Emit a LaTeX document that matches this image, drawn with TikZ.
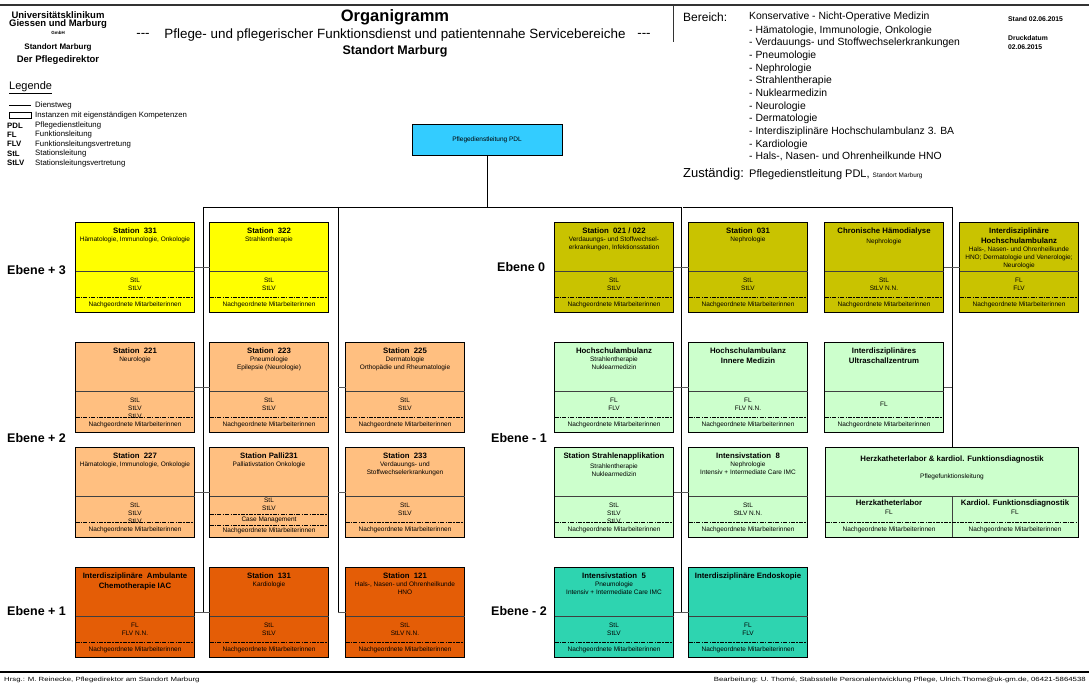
\documentclass[tikz,border=0pt]{standalone}
\usepackage{fontspec}
\setmainfont{Liberation Sans}
\usepackage{graphicx}
\usepackage{tikz}
\definecolor{ukgelb}{RGB}{255,255,0}
\definecolor{ukpfirsich}{RGB}{255,191,128}
\definecolor{ukorange}{RGB}{228,93,6}
\definecolor{ukoliv}{RGB}{201,195,0}
\definecolor{ukhellgruen}{RGB}{204,255,204}
\definecolor{uktuerkis}{RGB}{46,212,176}
\definecolor{ukcyan}{RGB}{51,204,255}
\tikzset{
	stationbox/.style={draw=black, line width=0.7pt, minimum width=119pt, minimum height=90pt, inner sep=0pt, outer sep=0pt},
	trennlinie/.style={draw=black!75, line width=0.6pt},
	strichpunkt/.style={draw=black, line width=0.6pt, dash pattern=on 4pt off 1.2pt on 1.5pt off 1.2pt},
	titel/.style={font=\fontsize{7.8}{9.5}\selectfont\bfseries, align=center, inner sep=0pt},
	klein/.style={font=\fontsize{6.5}{8}\selectfont, align=center, inner sep=0pt},
	dienstweg/.style={draw=black, line width=0.8pt},
	quer/.style={draw=black!65, line width=0.8pt},
	ebene/.style={font=\fontsize{12.5}{14}\selectfont\bfseries, anchor=west, inner sep=0pt},
	legtxt/.style={font=\fontsize{7.8}{9}\selectfont, anchor=west, inner sep=0pt},
	fuss/.style={font=\fontsize{6}{7}\selectfont, inner sep=0pt}
}
\newcommand{\station}[6]{%
	\node[stationbox, fill=#3] (#1) at (#2) {};
	\draw[trennlinie] ([yshift=-49pt]#1.north west) -- ([yshift=-49pt]#1.north east);
	\draw[strichpunkt] ([yshift=-75pt]#1.north west) -- ([yshift=-75pt]#1.north east);
	\node[titel, anchor=north] (#1-t) at ([yshift=-6pt]#1.north) {#4};
	\node[klein, anchor=north] (#1-s) at ([yshift=-2.5pt]#1-t.south) {#5};
	\node[klein] (#1-l) at ([yshift=-62pt]#1.north) {#6};
	\node[klein] (#1-n) at ([yshift=-82.5pt]#1.north) {Nachgeordnete Mitarbeiterinnen};
}

\begin{document}
\begin{tikzpicture}[x=1pt,y=-1pt]
	\useasboundingbox (0,0) rectangle (1089,684);

	% Kopf
	\draw[line width=1.2pt, black!80] (0,5) -- (1089,5);
	\draw[line width=0.6pt, black!80] (673,5) -- (673,42);
	\node[font=\fontsize{9.5}{11}\selectfont\bfseries, inner sep=0pt] (uk1) at (58,15) {Universitätsklinikum};
	\node[font=\fontsize{9.5}{11}\selectfont\bfseries, inner sep=0pt] (uk2) at (58,24) {Giessen und Marburg};
	\node[font=\fontsize{4.5}{5}\selectfont\bfseries, inner sep=0pt] (uk3) at (58,33) {GmbH};
	\node[font=\fontsize{8}{9}\selectfont\bfseries, inner sep=0pt] (uk4) at (58,47) {Standort Marburg};
	\node[font=\fontsize{9.5}{11}\selectfont\bfseries, inner sep=0pt] (uk5) at (58,60) {Der Pflegedirektor};

	\node[font=\fontsize{16.5}{18}\selectfont\bfseries, inner sep=0pt] (titel) at (395,17) {Organigramm};
	\node[font=\fontsize{13.4}{15}\selectfont, inner sep=0pt] (untertitel) at (395,35) {Pflege- und pflegerischer Funktionsdienst und patientennahe Servicebereiche};
	\node[font=\fontsize{13.4}{15}\selectfont, inner sep=0pt] (strich-l) at (143,35) {-{}-{}-};
	\node[font=\fontsize{13.4}{15}\selectfont, inner sep=0pt] (strich-r) at (644,35) {-{}-{}-};
	\node[font=\fontsize{12.5}{14}\selectfont\bfseries, inner sep=0pt] (standort) at (395,51) {Standort Marburg};

	\node[font=\fontsize{12}{14}\selectfont, anchor=west, inner sep=0pt] (bereich) at (683,17) {Bereich:};
	\node[font=\fontsize{10.4}{12.6}\selectfont, anchor=west, inner sep=0pt] (medizin) at (749,17) {Konservative - Nicht-Operative Medizin};
	\node[font=\fontsize{10.4}{12.65}\selectfont, align=left, anchor=north west, inner sep=0pt] (liste) at (749,25.5) {%
		- Hämatologie, Immunologie, Onkologie\\
		- Verdauungs- und Stoffwechselerkrankungen\\
		- Pneumologie\\
		- Nephrologie\\
		- Strahlentherapie\\
		- Nuklearmedizin\\
		- Neurologie\\
		- Dermatologie\\
		- Interdisziplinäre Hochschulambulanz 3. BA\\
		- Kardiologie\\
		- Hals-, Nasen- und Ohrenheilkunde HNO};
	\node[font=\fontsize{13}{15}\selectfont, anchor=base west, inner sep=0pt] (zust) at (683,177.5) {Zuständig:};
	\node[font=\fontsize{11}{13}\selectfont, anchor=base west, inner sep=0pt] (zust-txt) at (749,177.5) {Pflegedienstleitung PDL, {\fontsize{6.4}{8}\selectfont Standort Marburg}};

	\node[font=\fontsize{6.8}{8}\selectfont\bfseries, anchor=west, inner sep=0pt] (stand) at (1008,19) {Stand 02.06.2015};
	\node[font=\fontsize{6.8}{8}\selectfont\bfseries, anchor=west, inner sep=0pt] (druck) at (1008,38) {Druckdatum};
	\node[font=\fontsize{6.8}{8}\selectfont\bfseries, anchor=west, inner sep=0pt] (druck-d) at (1008,47) {02.06.2015};

	% Legende
	\node[font=\fontsize{11}{13}\selectfont, anchor=west, inner sep=0pt] (legende) at (9,88) {\underline{Legende}};
	\draw[line width=0.7pt] (9,105) -- (31,105);
	\draw[line width=0.6pt] (9,112.5) rectangle (31,118.5);
	\foreach \yy/\abk/\txt in {105//Dienstweg, 115.5//Instanzen mit eigenständigen Kompetenzen, 125.5/PDL/Pflegedienstleitung, 134.5/FL/Funktionsleitung, 144/FLV/Funktionsleitungsvertretung, 153.5/StL/Stationsleitung, 163.3/StLV/Stationsleitungsvertretung}{
		\node[legtxt, font=\fontsize{7.8}{9}\selectfont\bfseries] (abk-\yy) at (7,\yy) {\abk};
		\node[legtxt] (leg-\yy) at (35,\yy) {\txt};
	}

	% Pflegedienstleitung
	\node[draw=black, line width=0.6pt, fill=ukcyan, minimum width=150pt, minimum height=31pt, inner sep=0pt, font=\fontsize{6.5}{8}\selectfont] (pdl) at (487,139.5) {Pflegedienstleitung PDL};

	% Ebenen
	\node[ebene] (e3) at (7,270) {Ebene + 3};
	\node[ebene] (e2) at (7,438) {Ebene + 2};
	\node[ebene] (e1) at (7,611) {Ebene + 1};
	\node[ebene] (e0) at (497,267) {Ebene 0};
	\node[ebene] (em1) at (491,438) {Ebene - 1};
	\node[ebene] (em2) at (491,611) {Ebene - 2};

	% Stationen links
	\station{s331}{135,267}{ukgelb}{Station~~331}{Hämatologie, Immunologie, Onkologie}{StL\\StLV}
	\station{s322}{269,267}{ukgelb}{Station~~322}{Strahlentherapie}{StL\\StLV}
	\station{s221}{135,387}{ukpfirsich}{Station~~221}{Neurologie}{StL\\StLV}
	\node[klein] (s221-x) at ([yshift=-74pt]s221.north) {StLV};
	\station{s223}{269,387}{ukpfirsich}{Station~~223}{Pneumologie\\Epilepsie (Neurologie)}{StL\\StLV}
	\station{s225}{405,387}{ukpfirsich}{Station~~225}{Dermatologie\\Orthopädie und Rheumatologie}{StL\\StLV}
	\station{s227}{135,492}{ukpfirsich}{Station~~227}{Hämatologie, Immunologie, Onkologie}{StL\\StLV}
	\node[klein] (s227-x) at ([yshift=-74pt]s227.north) {StLV};
	\station{s233}{405,492}{ukpfirsich}{Station~~233}{Verdauungs- und\\Stoffwechselerkrankungen}{StL\\StLV}
	\station{iac}{135,612}{ukorange}{Interdisziplinäre~~Ambulante\\Chemotherapie IAC}{}{FL\\FLV N.N.}
	\station{s131}{269,612}{ukorange}{Station~~131}{Kardiologie}{StL\\StLV}
	\station{s121}{405,612}{ukorange}{Station~~121}{Hals-, Nasen- und Ohrenheilkunde\\HNO}{StL\\StLV N.N.}

	% Palliativstation mit Case Management
	\node[stationbox, fill=ukpfirsich] (palli) at (269,492) {};
	\draw[trennlinie] ([yshift=-49pt]palli.north west) -- ([yshift=-49pt]palli.north east);
	\draw[strichpunkt] ([yshift=-67pt]palli.north west) -- ([yshift=-67pt]palli.north east);
	\draw[strichpunkt] ([yshift=-78pt]palli.north west) -- ([yshift=-78pt]palli.north east);
	\node[titel, anchor=north] (palli-t) at ([yshift=-6pt]palli.north) {Station Palli231};
	\node[klein, anchor=north] (palli-s) at ([yshift=-2.5pt]palli-t.south) {Palliativstation Onkologie};
	\node[klein] (palli-l) at ([yshift=-57pt]palli.north) {StL\\StLV};
	\node[klein] (palli-c) at ([yshift=-72.5pt]palli.north) {Case Management};
	\node[klein] (palli-n) at ([yshift=-84pt]palli.north) {Nachgeordnete Mitarbeiterinnen};

	% Stationen rechts
	\station{s021}{614,267}{ukoliv}{Station~~021 / 022}{Verdauungs- und Stoffwechsel-\\erkrankungen, Infektionsstation}{StL\\StLV}
	\station{s031}{748,267}{ukoliv}{Station~~031}{Nephrologie}{StL\\StLV}
	\station{hd}{884,267}{ukoliv}{Chronische Hämodialyse}{Nephrologie}{StL\\StLV N.N.}
	\station{ha}{1019,267}{ukoliv}{Interdisziplinäre\\Hochschulambulanz}{Hals-, Nasen- und Ohrenheilkunde\\HNO; Dermatologie und Venerologie;\\Neurologie}{FL\\FLV}
	\station{hsa}{614,387}{ukhellgruen}{Hochschulambulanz}{Strahlentherapie\\Nuklearmedizin}{FL\\FLV}
	\station{hsim}{748,387}{ukhellgruen}{Hochschulambulanz\\Innere Medizin}{}{FL\\FLV N.N.}
	\station{usz}{884,387}{ukhellgruen}{Interdisziplinäres\\Ultraschallzentrum}{}{FL}
	\station{sap}{614,492}{ukhellgruen}{Station Strahlenapplikation}{Strahlentherapie\\Nuklearmedizin}{StL\\StLV}
	\node[klein] (sap-x) at ([yshift=-74pt]sap.north) {StLV};
	\station{is8}{748,492}{ukhellgruen}{Intensivstation~~8}{Nephrologie\\Intensiv + Intermediate Care IMC}{StL\\StLV N.N.}
	\station{is5}{614,612}{uktuerkis}{Intensivstation~~5}{Pneumologie\\Intensiv + Intermediate Care IMC}{StL\\StLV}
	\station{endo}{748,612}{uktuerkis}{Interdisziplinäre Endoskopie}{}{FL\\FLV}

	% Herzkatheterlabor
	\node[stationbox, minimum width=253pt, fill=ukhellgruen] (hk) at (952,492) {};
	\draw[trennlinie] ([yshift=-49pt]hk.north west) -- ([yshift=-49pt]hk.north east);
	\draw[trennlinie] ([yshift=-49pt]hk.north) -- (hk.south);
	\draw[strichpunkt] ([yshift=-75pt]hk.north west) -- ([yshift=-75pt]hk.north east);
	\node[titel, anchor=north] (hk-t) at ([yshift=-9pt]hk.north) {Herzkatheterlabor \& kardiol. Funktionsdiagnostik};
	\node[klein] (hk-s) at ([yshift=-30pt]hk.north) {Pflegefunktionsleitung};
	\node[titel] (hk-a) at ([xshift=-63pt,yshift=-56pt]hk.north) {Herzkatheterlabor};
	\node[klein] (hk-al) at ([xshift=-63pt,yshift=-65pt]hk.north) {FL};
	\node[klein] (hk-an) at ([xshift=-63pt,yshift=-82.5pt]hk.north) {Nachgeordnete Mitarbeiterinnen};
	\node[titel] (hk-b) at ([xshift=63pt,yshift=-56pt]hk.north) {Kardiol. Funktionsdiagnostik};
	\node[klein] (hk-bl) at ([xshift=63pt,yshift=-65pt]hk.north) {FL};
	\node[klein] (hk-bn) at ([xshift=63pt,yshift=-82.5pt]hk.north) {Nachgeordnete Mitarbeiterinnen};

	% Dienstwege
	\coordinate (oben-l) at (203,207);
	\coordinate (oben-m) at (338,207);
	\coordinate (oben-r) at (682,207);
	\coordinate (oben-rr) at (952,207);
	\draw[dienstweg] (pdl.south) -- (pdl.south |- oben-l);
	\draw[dienstweg] (oben-l) -- (oben-rr);
	\draw[dienstweg] (oben-l) -- (oben-l |- iac.east);
	\draw[dienstweg] (oben-m) -- (oben-m |- s121.west);
	\draw[dienstweg, line width=0.6pt, double, double distance=1pt] (oben-r) -- (oben-r |- is5.east);
	\draw[dienstweg] (oben-rr) -- (hk.north);

	\draw[quer] (s331.east) -- (s322.west);
	\draw[quer] (s221.east) -- (s223.west);
	\draw[quer] (oben-m |- s225.west) -- (s225.west);
	\draw[quer] (s227.east) -- (palli.west);
	\draw[quer] (oben-m |- s233.west) -- (s233.west);
	\draw[quer] (iac.east) -- (s131.west);
	\draw[quer] (oben-m |- s121.west) -- (s121.west);
	\draw[quer] (s021.east) -- (s031.west);
	\draw[quer] (hd.east) -- (ha.west);
	\draw[quer] (hsa.east) -- (hsim.west);
	\draw[quer] (usz.east) -- (oben-rr |- usz.east);
	\draw[quer] (sap.east) -- (is8.west);
	\draw[quer] (is5.east) -- (endo.west);

	% Fuss
	\draw[line width=1.5pt] (0,672) -- (1089,672);
	\node[fuss, anchor=west] (hrsg) at (4,680) {\scalebox{1.3}[1]{Hrsg.: M. Reinecke, Pflegedirektor am Standort Marburg}};
	\node[fuss, anchor=east] (bearb) at (1086,680) {\scalebox{1.3}[1]{Bearbeitung: U. Thomé, Stabsstelle Personalentwicklung Pflege, Ulrich.Thome@uk-gm.de, 06421-5864538}};
\end{tikzpicture}
\end{document}
